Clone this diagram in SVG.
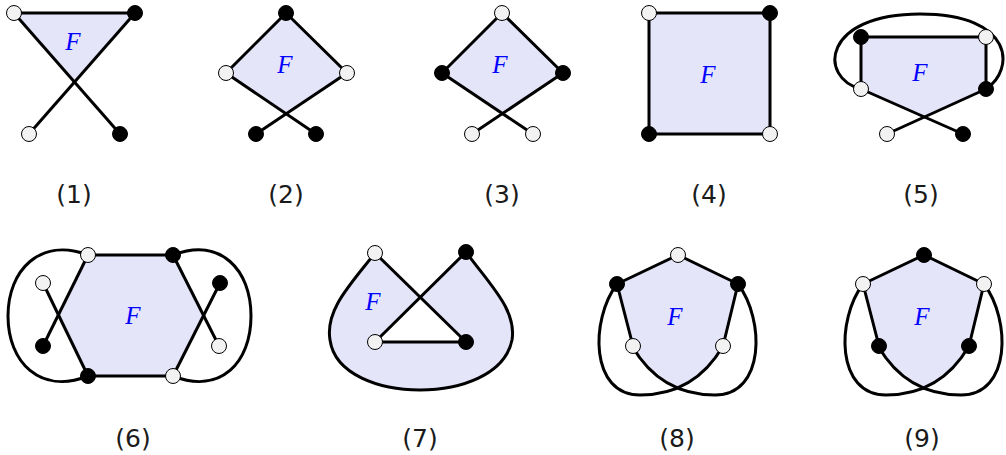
<svg xmlns="http://www.w3.org/2000/svg" width="1006" height="455" viewBox="0 0 1006 455">
<style>
.face{fill:#e5e5fa;stroke:none}
.e{fill:none;stroke:#000;stroke-width:3;stroke-linejoin:round}
.w{fill:#f2f2f2;stroke:#000;stroke-width:1}
.b{fill:#000;stroke:#000;stroke-width:1}
.F{font-family:"Liberation Serif",serif;font-style:italic;font-size:25px;fill:#0000ff;text-anchor:middle}
.lab{font-family:"DejaVu Sans",sans-serif;font-size:25px;fill:#1a1a1a;text-anchor:middle}
</style>
<g id="faces">
<polygon class="face" points="14,13 135,13 74,82"/>
<polygon class="face" points="286,13 347,73 286,113 226,73"/>
<polygon class="face" points="502,13 563,73 502,113 442,73"/>
<polygon class="face" points="649,13 770,13 770,134 649,134"/>
<polygon class="face" points="861,37 986,37 986,89 924,116 861,89"/>
<polygon class="face" points="88,255 173,255 203,316 173,376 88,376 59,316"/>
<path class="face" fill-rule="evenodd" d="M375,253 C350,285 325,310 330,340 C335,375 380,390 420,390 C460,390 505,375 512,340 C517,310 490,285 466,252 L420.5,297.5 Z M420.5,297.5 L375,342 L466,342 Z"/>
<path class="face" d="M617,284 L678,255 L738,284 L723,346 Q702,376 678,387 Q654,376 632,346 Z"/>
<path class="face" d="M863,284 L924,255 L984,284 L969,346 Q948,376 924,387 Q900,376 878,346 Z"/>
</g>
<g id="connectors">
<line class="e" x1="14" y1="13" x2="135" y2="13"/>
<line class="e" x1="14" y1="13" x2="120" y2="134"/>
<line class="e" x1="135" y1="13" x2="29" y2="134"/>
<polyline class="e" points="226,73 286,13 347,73"/>
<line class="e" x1="226" y1="73" x2="316" y2="134"/>
<line class="e" x1="347" y1="73" x2="256" y2="134"/>
<polyline class="e" points="442,73 502,13 563,73"/>
<line class="e" x1="442" y1="73" x2="533" y2="134"/>
<line class="e" x1="563" y1="73" x2="472" y2="134"/>
<polygon class="e" points="649,13 770,13 770,134 649,134"/>
<polyline class="e" points="861,89 861,37 986,37 986,89"/>
<line class="e" x1="861" y1="89" x2="963" y2="134"/>
<line class="e" x1="986" y1="89" x2="887" y2="134"/>
<path class="e" d="M861,89 C818,78 822,14 920,14 C1015,14 1015,70 986,89"/>
<line class="e" x1="88" y1="255" x2="173" y2="255"/>
<line class="e" x1="88" y1="376" x2="173" y2="376"/>
<line class="e" x1="88" y1="255" x2="43" y2="346"/>
<line class="e" x1="88" y1="376" x2="43" y2="283"/>
<line class="e" x1="173" y1="255" x2="219" y2="346"/>
<line class="e" x1="173" y1="376" x2="220" y2="283"/>
<path class="e" d="M88,255 C40,237 8,270 8,316 C8,362 40,395 88,376"/>
<path class="e" d="M173,255 C221,237 251,270 251,316 C251,362 221,395 173,376"/>
<line class="e" x1="375" y1="253" x2="466" y2="342"/>
<line class="e" x1="466" y1="252" x2="375" y2="342"/>
<line class="e" x1="375" y1="342" x2="466" y2="342"/>
<path class="e" d="M375,253 C350,285 325,310 330,340 C335,375 380,390 420,390 C460,390 505,375 512,340 C517,310 490,285 466,252"/>
<polyline class="e" points="633,346 617,284 678,255 738,284 723,346"/>
<path class="e" d="M617,284 C590,320 590,395 640,395 C672,395 702,382 723,346"/>
<path class="e" d="M738,284 C765,320 765,395 715,395 C683,395 653,382 632,346"/>
<polyline class="e" points="879,346 863,284 924,255 984,284 969,346"/>
<path class="e" d="M863,284 C836,320 836,395 886,395 C918,395 948,382 969,346"/>
<path class="e" d="M984,284 C1011,320 1011,395 961,395 C929,395 899,382 878,346"/>
</g>
<g id="fig1">
<circle class="w" cx="14" cy="13" r="7.5"/><circle class="b" cx="135" cy="13" r="7.5"/>
<circle class="w" cx="29" cy="134" r="7.5"/><circle class="b" cx="120" cy="134" r="7.5"/>
<text class="F" x="73" y="50">F</text>
<text class="lab" x="74" y="203">(1)</text>
</g>
<g id="fig2">
<circle class="b" cx="286" cy="13" r="7.5"/><circle class="w" cx="226" cy="73" r="7.5"/>
<circle class="w" cx="347" cy="73" r="7.5"/><circle class="b" cx="256" cy="134" r="7.5"/>
<circle class="b" cx="316" cy="134" r="7.5"/>
<text class="F" x="285" y="73">F</text>
<text class="lab" x="286" y="203">(2)</text>
</g>
<g id="fig3">
<circle class="w" cx="502" cy="13" r="7.5"/><circle class="b" cx="442" cy="73" r="7.5"/>
<circle class="b" cx="563" cy="73" r="7.5"/><circle class="w" cx="472" cy="134" r="7.5"/>
<circle class="w" cx="533" cy="134" r="7.5"/>
<text class="F" x="500" y="73">F</text>
<text class="lab" x="502" y="203">(3)</text>
</g>
<g id="fig4">
<circle class="w" cx="649" cy="13" r="7.5"/><circle class="b" cx="770" cy="13" r="7.5"/>
<circle class="b" cx="649" cy="134" r="7.5"/><circle class="w" cx="770" cy="134" r="7.5"/>
<text class="F" x="708" y="83">F</text>
<text class="lab" x="709" y="203">(4)</text>
</g>
<g id="fig5">
<circle class="b" cx="861" cy="37" r="7.5"/><circle class="w" cx="986" cy="37" r="7.5"/>
<circle class="w" cx="861" cy="89" r="7.5"/><circle class="b" cx="986" cy="89" r="7.5"/>
<circle class="w" cx="887" cy="134" r="7.5"/><circle class="b" cx="963" cy="134" r="7.5"/>
<text class="F" x="920" y="81">F</text>
<text class="lab" x="921" y="203">(5)</text>
</g>
<g id="fig6">
<circle class="w" cx="88" cy="255" r="7.5"/><circle class="b" cx="173" cy="255" r="7.5"/>
<circle class="b" cx="88" cy="376" r="7.5"/><circle class="w" cx="173" cy="376" r="7.5"/>
<circle class="w" cx="43" cy="283" r="7.5"/><circle class="b" cx="43" cy="346" r="7.5"/>
<circle class="b" cx="220" cy="283" r="7.5"/><circle class="w" cx="219" cy="346" r="7.5"/>
<text class="F" x="133" y="324">F</text>
<text class="lab" x="133" y="447">(6)</text>
</g>
<g id="fig7">
<circle class="w" cx="375" cy="253" r="7.5"/><circle class="b" cx="466" cy="252" r="7.5"/>
<circle class="w" cx="375" cy="342" r="7.5"/><circle class="b" cx="466" cy="342" r="7.5"/>
<text class="F" x="373" y="310">F</text>
<text class="lab" x="420" y="447">(7)</text>
</g>
<g id="fig8">
<circle class="w" cx="678" cy="255" r="7.5"/><circle class="b" cx="617" cy="284" r="7.5"/>
<circle class="b" cx="738" cy="284" r="7.5"/><circle class="w" cx="633" cy="346" r="7.5"/>
<circle class="w" cx="723" cy="346" r="7.5"/>
<text class="F" x="675" y="325">F</text>
<text class="lab" x="677" y="447">(8)</text>
</g>
<g id="fig9">
<circle class="b" cx="924" cy="255" r="7.5"/><circle class="w" cx="863" cy="284" r="7.5"/>
<circle class="w" cx="984" cy="284" r="7.5"/><circle class="b" cx="879" cy="346" r="7.5"/>
<circle class="b" cx="969" cy="346" r="7.5"/>
<text class="F" x="922" y="325">F</text>
<text class="lab" x="922" y="447">(9)</text>
</g>
</svg>
